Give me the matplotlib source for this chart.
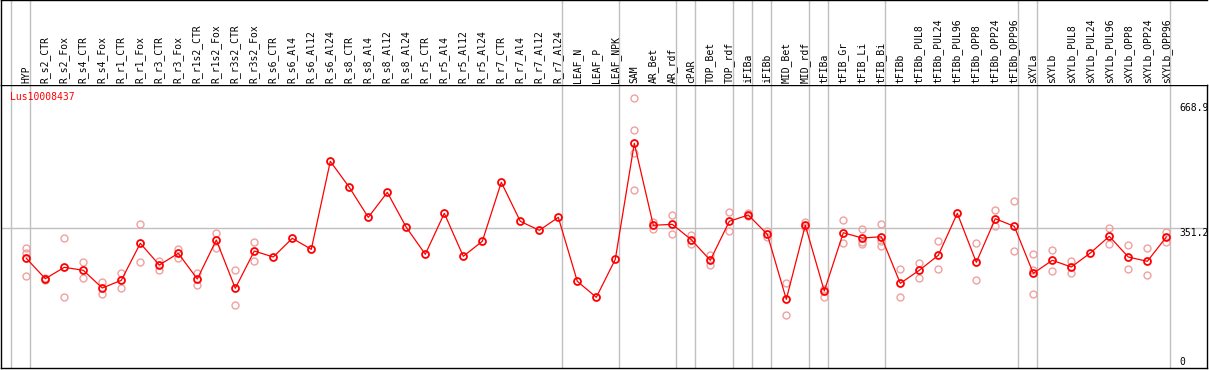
import matplotlib
matplotlib.use("Agg")
import matplotlib.pyplot as plt
import matplotlib.transforms as mtrans

categories = [
    "HYP", "R_s2_CTR", "R_s2_Fox", "R_s4_CTR", "R_s4_Fox", "R_r1_CTR", "R_r1_Fox",
    "R_r3_CTR", "R_r3_Fox", "R_r1s2_CTR", "R_r1s2_Fox", "R_r3s2_CTR", "R_r3s2_Fox",
    "R_s6_CTR", "R_s6_Al4", "R_s6_Al12", "R_s6_Al24", "R_s8_CTR", "R_s8_Al4",
    "R_s8_Al12", "R_s8_Al24", "R_r5_CTR", "R_r5_Al4", "R_r5_Al12", "R_r5_Al24",
    "R_r7_CTR", "R_r7_Al4", "R_r7_Al12", "R_r7_Al24", "LEAF_N", "LEAF_P", "LEAF_NPK",
    "SAM", "AR_Bet", "AR_rdf", "cPAR", "TOP_Bet", "TOP_rdf", "iFIBa", "iFIBb",
    "MID_Bet", "MID_rdf", "tFIBa", "tFIB_Gr", "tFIB_Li", "tFIB_Bi", "tFIBb",
    "tFIBb_PUL8", "tFIBb_PUL24", "tFIBb_PUL96", "tFIBb_OPP8", "tFIBb_OPP24",
    "tFIBb_OPP96", "sXYLa", "sXYLb", "sXYLb_PUL8", "sXYLb_PUL24", "sXYLb_PUL96",
    "sXYLb_OPP8", "sXYLb_OPP24", "sXYLb_OPP96",
]

mean_values = [
    275.2, 223.6, 252.4, 244.9, 200.0, 219.5, 313.2, 258.3, 287.9, 222.8,
    321.6, 199.3, 293.7, 278.5, 325.9, 298.0, 520.8, 455.0, 379.0, 442.3,
    353.7, 285.4, 389.2, 280.3, 318.3, 467.7, 368.9, 346.1, 379.0, 217.0,
    176.5, 272.7, 566.4, 358.8, 361.3, 322.3, 270.2, 368.9, 384.9, 336.0,
    171.4, 358.8, 192.4, 340.0, 326.6, 329.9, 211.9, 244.9, 282.8, 389.2,
    265.1, 375.5, 356.2, 237.2, 270.2, 253.2, 288.6, 330.9, 278.5, 267.6,
    329.2,
]

replicates = [
    [300.5, 288.0, 230.4], [221.0, 226.0], [325.9, 176.5], [265.1, 224.6],
    [214.5, 184.1], [237.2, 200.0], [361.3, 265.1], [269.2, 244.9],
    [299.5, 276.7], [238.0, 206.9], [338.5, 302.1], [244.9, 156.2],
    [316.5, 267.6], [], [], [], [], [], [], [], [], [], [], [], [], [], [], [], [],
    [], [], [],
    [680.4, 599.3, 542.6, 447.4], [367.1, 350.2], [384.1, 336.8], [334.2, 311.4],
    [284.3, 258.3], [392.5, 343.6], [389.2, 381.6], [344.4, 329.9],
    [211.9, 130.9], [367.9, 355.2], [197.5, 178.0], [372.2, 314.7],
    [348.7, 315.7, 312.2], [362.1, 318.3, 307.1], [247.4, 176.5],
    [262.6, 224.6], [319.0, 247.4], [], [313.2, 219.5], [396.8, 357.8],
    [419.5, 293.7], [285.4, 245.6, 184.1], [296.2, 242.3], [268.4, 238.8], [],
    [351.9, 310.7], [308.1, 248.1], [300.5, 232.9], [341.8, 316.5],
]

# group separators are drawn after these categories ("" = before the first)
separator_after = ["", "HYP", "R_r7_Al24", "LEAF_NPK", "AR_rdf", "cPAR", "TOP_rdf",
                   "iFIBa", "iFIBb", "MID_rdf", "tFIBa", "tFIB_Bi", "tFIBb_OPP96",
                   "sXYLa", "sXYLb_OPP96"]

y_labels = [668.9, 351.2, 0]
gene_name = "Lus10008437"

W, H = 1209, 370
fig = plt.figure(figsize=(W / 100, H / 100), dpi=100)


def px(x0, y0, x1, y1):
    return [x0 / W, 1 - y1 / H, (x1 - x0) / W, (y1 - y0) / H]


ax = fig.add_axes(px(1, 85, 1207, 368))
axt = fig.add_axes(px(1, 0, 1207, 85), sharex=ax)

RED = "#ff0000"
PINK = "#f0a0a0"
GRAY = "#c0c0c0"
FONT = "DejaVu Sans Mono"
xs = list(range(len(categories)))

ax.set_xlim(-1.3316, 62.142)
ax.set_ylim(-2.53, 714.1)

# separators
sep_pos = []
for name in separator_after:
    idx = -1 if name == "" else categories.index(name)
    sep_pos.append(idx + 0.21)
for p in sep_pos:
    ax.axvline(p, color=GRAY, lw=1.0, zorder=1)
    axt.axvline(p, color=GRAY, lw=1.0, zorder=1)

ax.axhline(y_labels[1], color=GRAY, lw=1.0, zorder=1)

# replicates
for i, reps in enumerate(replicates):
    if reps:
        ax.plot([i] * len(reps), reps, linestyle="none", marker="o", ms=5.0,
                mfc="none", mec=PINK, mew=1.0, zorder=2)

ax.plot(xs, mean_values, color=RED, lw=0.9, marker="o", ms=5.0, mfc="none",
        mec=RED, mew=1.3, zorder=3)

ax.set_xticks([])
ax.set_yticks([])
for s in ["left", "right", "bottom", "top"]:
    ax.spines[s].set_color("black")
    ax.spines[s].set_linewidth(1.0)

axt.set_ylim(0, 1)
axt.set_xticks([])
axt.set_yticks([])
axt.spines["right"].set_visible(False)
axt.spines["bottom"].set_visible(False)
axt.spines["top"].set_linewidth(1.0)
axt.spines["left"].set_linewidth(1.0)

for i, lab in enumerate(categories):
    axt.text(i, 0.025, lab, rotation=90, ha="center", va="bottom",
             fontsize=7, family=FONT, color="black")

ax.text(0.0075, 0.975, gene_name, transform=ax.transAxes, color=RED,
        fontsize=7, family=FONT, ha="left", va="top")

tr = mtrans.blended_transform_factory(ax.transAxes, ax.transData)
ax.text(0.9768, y_labels[0], "668.9", transform=tr, ha="left", va="top",
        fontsize=7, family=FONT, clip_on=True)
ax.text(0.9768, y_labels[1], "351.2", transform=tr, ha="left", va="top",
        fontsize=7, family=FONT, clip_on=True)
ax.text(0.9768, y_labels[2], "0", transform=tr, ha="left", va="bottom",
        fontsize=7, family=FONT, clip_on=True)

fig.savefig("out.png", dpi=100)
